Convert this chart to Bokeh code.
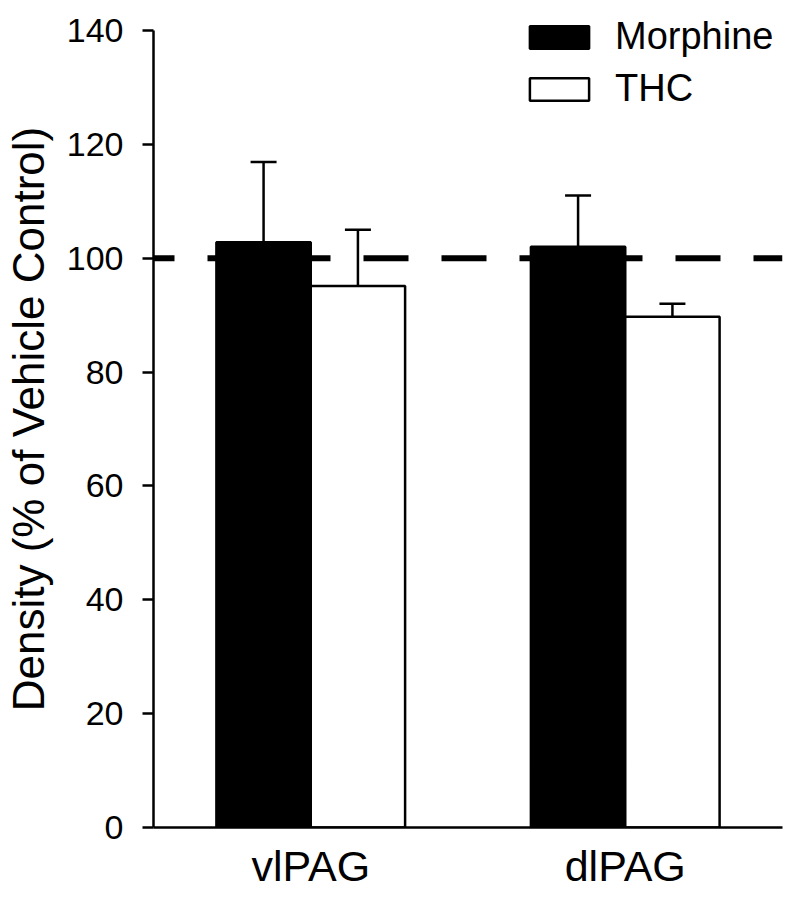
from bokeh.plotting import figure
from bokeh.models import (ColumnDataSource, FactorRange, Range1d, Whisker, TeeHead,
                          Span, Legend, LegendItem, FixedTicker)
from bokeh.transform import dodge
from bokeh.embed import file_html
from bokeh.resources import INLINE

# ---- data ----
regions = ["vlPAG", "dlPAG"]
morphine = [102.8, 102.0]
morphine_sem = [14.1, 9.0]
thc = [95.1, 89.7]
thc_sem = [9.9, 2.3]
y_ticks = [0, 20, 40, 60, 80, 100, 120, 140]
y_axis_max = 140
reference_level = 100

FONT = "Liberation Sans"

src = ColumnDataSource(dict(
    cat=regions,
    morphine=morphine,
    thc=thc,
    morph_up=[m + s for m, s in zip(morphine, morphine_sem)],
    thc_up=[t + s for t, s in zip(thc, thc_sem)],
))

# frame extends 20px above the top of the axis so the legend is not clipped
axis_px = 799
y_end = y_axis_max * (axis_px + 20) / axis_px

p = figure(width=790, height=892, x_range=FactorRange(factors=regions, range_padding=0),
           y_range=Range1d(0, y_end), output_backend="svg", toolbar_location=None,
           min_border_left=146, min_border_right=8, min_border_top=10, min_border_bottom=63)
p.outline_line_color = None
p.xgrid.grid_line_color = None
p.ygrid.grid_line_color = None
p.background_fill_color = "white"

span = Span(location=reference_level, dimension="width", line_color="black", line_width=6,
            line_dash="45 33", line_dash_offset=24)
p.add_layout(span)

r_m = p.vbar(x=dodge("cat", -0.15, range=p.x_range), top="morphine", width=0.3, source=src,
             fill_color="black", line_color="black", line_width=2.5)
r_t = p.vbar(x=dodge("cat", 0.15, range=p.x_range), top="thc", width=0.3, source=src,
             fill_color="white", line_color="black", line_width=2.5)

for off, lo, up in [(-0.15, "morphine", "morph_up"), (0.15, "thc", "thc_up")]:
    w = Whisker(source=src, base=dodge("cat", off, range=p.x_range), lower=lo, upper=up,
                line_width=2.5, line_color="black",
                upper_head=TeeHead(size=26, line_width=2.5, line_color="black"),
                lower_head=None, level="overlay")
    p.add_layout(w)

# axes
p.yaxis.ticker = FixedTicker(ticks=y_ticks)
p.yaxis.bounds = (0, y_axis_max)
p.yaxis.axis_label = "Density (% of Vehicle Control)"
p.yaxis.axis_label_text_font = FONT
p.yaxis.axis_label_text_font_size = "44px"
p.yaxis.axis_label_text_font_style = "normal"
p.yaxis.axis_label_text_color = "black"
p.yaxis.axis_label_standoff = 11
p.yaxis.major_label_text_font = FONT
p.yaxis.major_label_text_font_size = "34px"
p.yaxis.major_label_text_color = "black"
p.yaxis.major_label_standoff = 19
p.yaxis.major_tick_out = 11
p.yaxis.major_tick_in = 0
p.yaxis.minor_tick_line_color = None
p.yaxis.axis_line_width = 2.5
p.yaxis.major_tick_line_width = 2.5
p.yaxis.axis_line_color = "black"
p.yaxis.major_tick_line_color = "black"

p.xaxis.major_label_text_font = FONT
p.xaxis.major_label_text_font_size = "43px"
p.xaxis.major_label_text_color = "black"
p.xaxis.major_label_standoff = 14
p.xaxis.major_tick_line_color = None
p.xaxis.major_tick_out = 0
p.xaxis.minor_tick_line_color = None
p.xaxis.axis_line_width = 2.5
p.xaxis.axis_line_color = "black"

legend = Legend(items=[LegendItem(label="Morphine", renderers=[r_m]),
                       LegendItem(label="THC", renderers=[r_t])],
                location=(369, 717), glyph_width=74, glyph_height=28,
                label_text_font=FONT, label_text_font_size="38px",
                label_text_color="black",
                label_standoff=19, spacing=9, padding=0, margin=0,
                border_line_color=None, background_fill_alpha=0)
p.add_layout(legend)

open("out.html", "w").write(file_html(p, INLINE))
